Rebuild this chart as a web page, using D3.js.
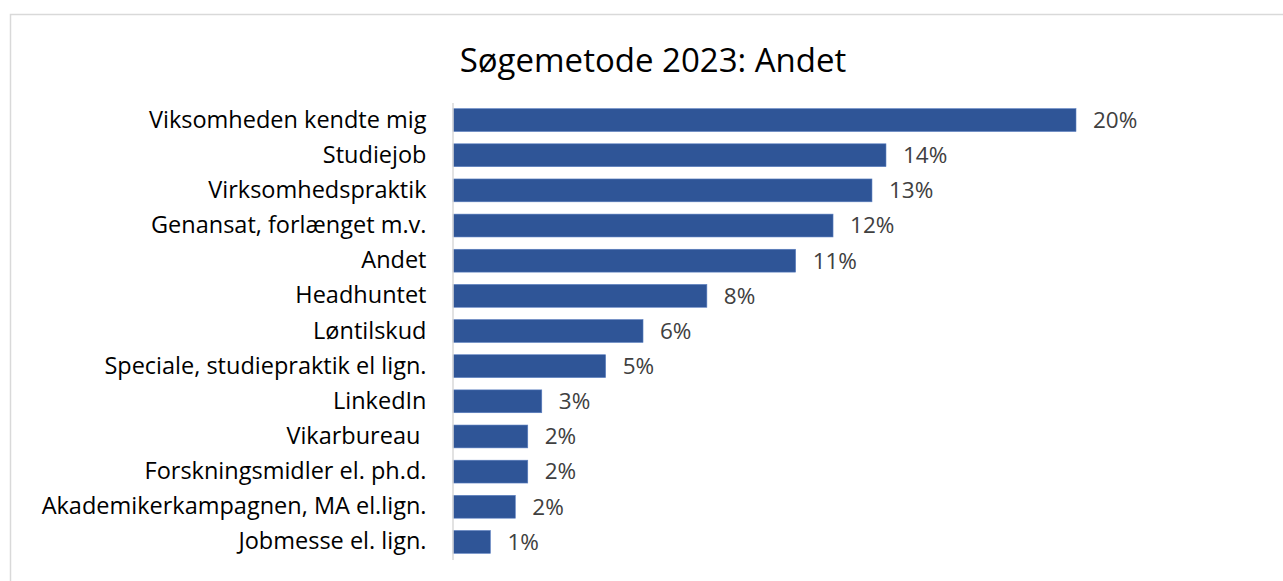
<!DOCTYPE html>
<html>
<head>
<meta charset="utf-8">
<script src="https://cdn.jsdelivr.net/npm/d3@7"></script>
<style>
  body { margin: 0; background: #fff; }
  svg { font-family: "Open Sans", sans-serif; font-variant-ligatures: none; }
</style>
</head>
<body>
<svg></svg>
<script>
var width = 1283;
var height = 581;

var categories = [
	'Viksomheden kendte mig',
	'Studiejob',
	'Virksomhedspraktik',
	'Genansat, forlænget m.v.',
	'Andet',
	'Headhuntet',
	'Løntilskud',
	'Speciale, studiepraktik el lign.',
	'LinkedIn',
	'Vikarbureau ',
	'Forskningsmidler el. ph.d.',
	'Akademikerkampagnen, MA el.lign.',
	'Jobmesse el. lign.'
];
var values = [20.0, 13.9, 13.45, 12.2, 11.0, 8.15, 6.1, 4.9, 2.85, 2.4, 2.4, 2.0, 1.2];
var title = 'Søgemetode 2023: Andet';

var svg = d3.select('svg')
			.attr('width', width)
			.attr('height', height);

// chart frame
svg.append('rect')
	.attr('x', 10.5)
	.attr('y', 14.5)
	.attr('width', 1290)
	.attr('height', 600)
	.attr('fill', 'none')
	.attr('stroke', '#d9d9d9')
	.attr('stroke-width', 1.5);

var xScale = d3.scaleLinear()
			   .domain([0, 20])
			   .range([453, 1076]);
var yScale = d3.scaleBand()
			   .domain(categories)
			   .range([102.5, 559.5])
			   .paddingInner(0.35)
			   .paddingOuter(0.175);

svg.append('text')
	.attr('x', 653)
	.attr('y', 72)
	.attr('text-anchor', 'middle')
	.attr('font-size', '33px')
	.attr('fill', '#000')
	.text(title);

svg.selectAll('.bar')
	.data(values)
	.enter()
	.append('rect')
	  .classed('bar', true)
	  .attr('x', xScale(0))
	  .attr('y', (d, i) => yScale(categories[i]))
	  .attr('width', d => xScale(d) - xScale(0))
	  .attr('height', yScale.bandwidth())
	  .attr('fill', '#2f5597')
	  .attr('stroke', '#5b7fc0')
	  .attr('stroke-width', 0.6);

var yAxis = d3.axisLeft(yScale)
			  .tickSize(0)
			  .tickPadding(26);

var axis = svg.append('g')
	.attr('transform', `translate(${xScale(0) - 0.5}, 0)`)
	.call(yAxis);
axis.select('.domain')
	.attr('stroke', '#d9d9d9')
	.attr('stroke-width', 1.5);
// keep the trailing space in 'Vikarbureau '
axis.selectAll('text')
	.style('white-space', 'pre')
	.attr('font-family', '"Open Sans", sans-serif')
	.attr('font-size', '23.5px')
	.attr('fill', '#000');

svg.selectAll('.value')
	.data(values)
	.enter()
	.append('text')
	  .classed('value', true)
	  .attr('x', d => xScale(d) + 17)
	  .attr('y', (d, i) => yScale(categories[i]) + yScale.bandwidth() / 2)
	  .attr('dy', '0.35em')
	  .attr('font-size', '22.5px')
	  .attr('fill', '#404040')
	  .text(d => Math.round(d) + '%');
</script>
</body>
</html>
